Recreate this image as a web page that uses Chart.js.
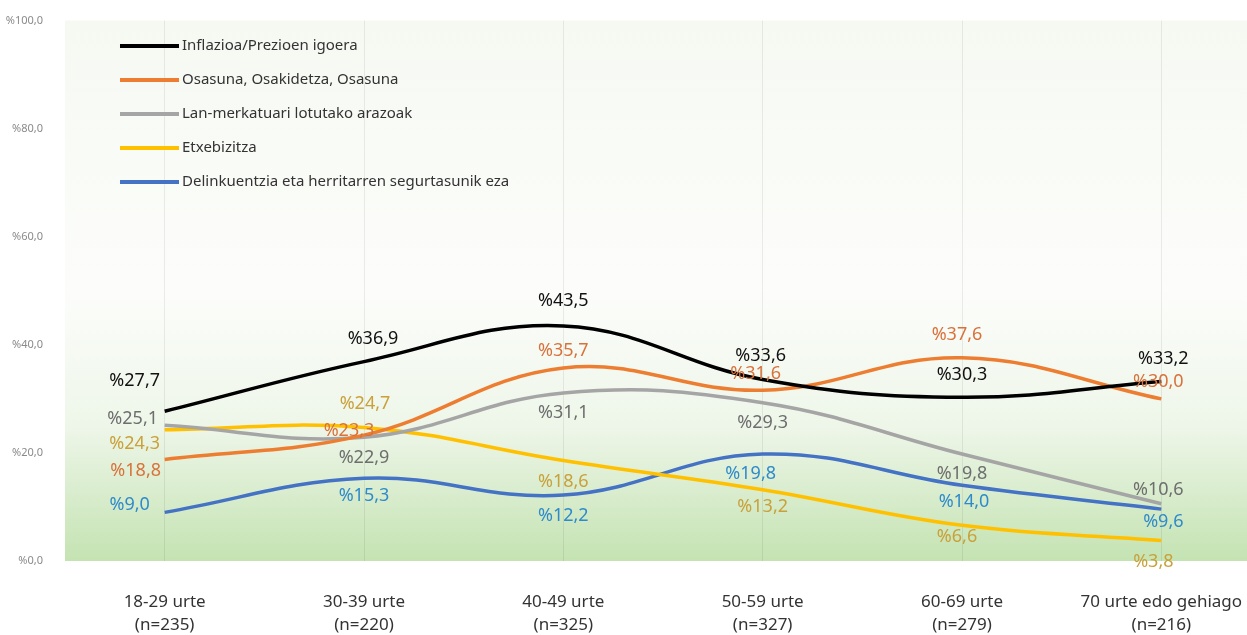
<!DOCTYPE html>
<html>
<head>
<meta charset="utf-8">
<script src="https://cdn.jsdelivr.net/npm/chart.js@4/dist/chart.umd.min.js"></script>
<style>
  html, body { margin: 0; padding: 0; background: #fff; overflow: hidden; }
  #wrap { width: 1262px; height: 635px; }
</style>
</head>
<body>
<div id="wrap"><canvas id="chart"></canvas></div>
<script>
// categories and series values
const categories = [
  ["18-29 urte", "(n=235)"],
  ["30-39 urte", "(n=220)"],
  ["40-49 urte", "(n=325)"],
  ["50-59 urte", "(n=327)"],
  ["60-69 urte", "(n=279)"],
  ["70 urte edo gehiago", "(n=216)"],
];
const seriesNames = [
  "Inflazioa/Prezioen igoera",
  "Osasuna, Osakidetza, Osasuna",
  "Lan-merkatuari lotutako arazoak",
  "Etxebizitza",
  "Delinkuentzia eta herritarren segurtasunik eza",
];
const inflazioa = [27.7, 36.9, 43.5, 33.6, 30.3, 33.2];
const osasuna = [18.8, 23.3, 35.7, 31.6, 37.6, 30.0];
const lanMerkatua = [25.1, 22.9, 31.1, 29.3, 19.8, 10.6];
const etxebizitza = [24.3, 24.7, 18.6, 13.2, 6.6, 3.8];
const delinkuentzia = [9.0, 15.3, 12.2, 19.8, 14.0, 9.6];
const yTickValues = [0, 20, 40, 60, 80, 100];

const lineColors = ["#000000", "#ED7D31", "#A5A5A5", "#FFC000", "#4472C4"];
const labelColors = ["#111111", "#D9713A", "#6E6E6E", "#C9A13A", "#2E8BCB"];

// label offsets from the point (dx, dy), per series and point
const labelOffsets = [
  [[-30, -30], [9, -23], [0, -25], [-2, -24], [0, -22], [2, -23]],
  [[-29, 11], [-15, -4], [0, -17], [-7, -16], [-5, -23], [-3, -17]],
  [[-32, -6], [0, 21], [0, 20], [0, 20], [0, 20], [-3, -14]],
  [[-30, 14], [1, -24], [0, 21], [0, 17], [-5, 12], [-8, 21]],
  [[-35, -7], [0, 18], [0, 21], [-12, 20], [2, 17], [2, 13]],
];

const fmt = (v) => "%" + v.toFixed(1).replace(".", ",");

const bgPlugin = {
  id: "bgGradient",
  beforeDraw(chart) {
    const { ctx, chartArea: a } = chart;
    const g = ctx.createLinearGradient(0, a.top, 0, a.bottom);
    g.addColorStop(0, "rgb(246,249,242)");
    g.addColorStop(0.5, "rgb(252,253,251)");
    g.addColorStop(0.75, "rgb(238,246,233)");
    g.addColorStop(1, "rgb(196,227,178)");
    ctx.save();
    ctx.fillStyle = g;
    ctx.fillRect(a.left, a.top, a.right - a.left, a.bottom - a.top);
    ctx.restore();
  },
};

const labelPlugin = {
  id: "pointLabels",
  afterDatasetsDraw(chart) {
    const ctx = chart.ctx;
    ctx.save();
    ctx.font = '18px "Noto Sans"';
    ctx.textAlign = "center";
    ctx.textBaseline = "middle";
    chart.data.datasets.forEach((ds, di) => {
      const meta = chart.getDatasetMeta(di);
      meta.data.forEach((pt, i) => {
        const off = labelOffsets[di][i];
        ctx.fillStyle = labelColors[di];
        ctx.fillText(fmt(ds.data[i]), pt.x + off[0], pt.y + off[1]);
      });
    });
    ctx.restore();
  },
};

const legendPlugin = {
  id: "innerLegend",
  afterDraw(chart) {
    const ctx = chart.ctx;
    ctx.save();
    ctx.font = '15px "Noto Sans"';
    ctx.textBaseline = "middle";
    ctx.textAlign = "left";
    chart.data.datasets.forEach((ds, i) => {
      const y = 46 + i * 34;
      ctx.strokeStyle = ds.borderColor;
      ctx.lineWidth = 4;
      ctx.beginPath();
      ctx.moveTo(120, y);
      ctx.lineTo(179, y);
      ctx.stroke();
      ctx.fillStyle = "#333333";
      ctx.fillText(ds.label, 182, y);
    });
    ctx.restore();
  },
};

const seriesValues = [inflazioa, osasuna, lanMerkatua, etxebizitza, delinkuentzia];

new Chart(document.getElementById("chart"), {
  type: "line",
  data: {
    labels: categories,
    datasets: seriesValues.map((vals, i) => ({
      label: seriesNames[i],
      data: vals,
      borderColor: lineColors[i],
      backgroundColor: lineColors[i],
      borderWidth: 3.5,
      pointRadius: 0,
      tension: 0.4,
      fill: false,
    })),
  },
  options: {
    responsive: true,
    maintainAspectRatio: false,
    animation: false,
    layout: { padding: { top: 20, right: 1, left: 0, bottom: 0 } },
    plugins: {
      legend: { display: false },
      tooltip: { enabled: false },
      title: { display: false },
    },
    scales: {
      x: {
        offset: true,
        grid: { display: true, color: "rgba(0,0,0,0.07)", drawTicks: false, offset: false },
        border: { display: false },
        ticks: {
          color: "#333333",
          font: { family: "Noto Sans", size: 17, lineHeight: 1.35 },
          padding: 30,
          maxRotation: 0,
          autoSkip: false,
        },
        afterFit(s) {
          s.height = 74;
          s.paddingLeft = 0;
          s.paddingRight = 0;
        },
      },
      y: {
        min: 0,
        max: 100,
        afterBuildTicks(s) { s.ticks = yTickValues.map((v) => ({ value: v })); },
        grid: { display: false },
        border: { display: false },
        ticks: {
          color: "#8a8a8a",
          font: { family: "Noto Sans", size: 11 },
          padding: 14,
          callback: (v) => fmt(v),
        },
        afterFit(s) { s.width = 65; },
      },
    },
  },
  plugins: [bgPlugin, labelPlugin, legendPlugin],
});
</script>
</body>
</html>
